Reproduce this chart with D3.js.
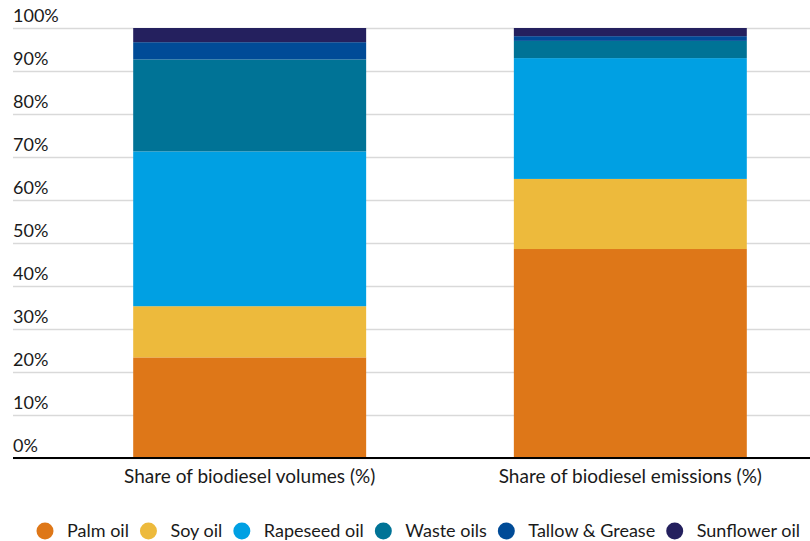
<!DOCTYPE html>
<html>
<head>
<meta charset="utf-8">
<script src="https://cdn.jsdelivr.net/npm/d3@7"></script>
<style>
  body { margin: 0; background: #fff; }
  text { font-family: Lato, "Noto Sans", sans-serif; fill: #1a1a1a; }
</style>
</head>
<body>
<div id="chart"></div>
<script>
// Data (percent share, bottom to top)
const categories = ["Share of biodiesel volumes (%)", "Share of biodiesel emissions (%)"];
const feedstocks = ["Palm oil", "Soy oil", "Rapeseed oil", "Waste oils", "Tallow & Grease", "Sunflower oil"];
const palmOil = [23.4, 48.6];
const soyOil = [11.9, 16.3];
const rapeseedOil = [36.0, 28.1];
const wasteOils = [21.4, 4.0];
const tallowGrease = [4.0, 1.1];
const sunflowerOil = [3.3, 1.9];
const yTicks = [0, 10, 20, 30, 40, 50, 60, 70, 80, 90, 100];
const colors = ["#de7718", "#edba3c", "#00a0e3", "#007396", "#004b97", "#24205e"];

const seriesValues = [palmOil, soyOil, rapeseedOil, wasteOils, tallowGrease, sunflowerOil];
const table = categories.map((c, i) => {
  const row = { category: c };
  feedstocks.forEach((f, j) => row[f] = seriesValues[j][i]);
  return row;
});

const width = 810;
const height = 541;
const marginTop = 28;
const marginBottom = 83;
const marginLeft = 13;

const x = d3.scaleBand()
    .domain(categories)
    .range([78, 802])
    .paddingInner(0.388)
    .paddingOuter(0.145);

const y = d3.scaleLinear()
    .domain([0, 100])
    .range([height - marginBottom, marginTop]);

const color = d3.scaleOrdinal().domain(feedstocks).range(colors);

const svg = d3.select("#chart").append("svg")
    .attr("width", width)
    .attr("height", height);

// grid + tick labels
const yAxis = svg.append("g")
    .attr("transform", `translate(${marginLeft},0)`)
    .call(d3.axisRight(y).tickValues(yTicks).tickSize(width - marginLeft).tickFormat(d => d + "%"));
yAxis.select(".domain").remove();
yAxis.selectAll(".tick line").attr("stroke", "#d9d9d9").attr("stroke-width", 1.5);
yAxis.selectAll(".tick text")
    .attr("x", 0)
    .attr("dy", -7)
    .attr("text-anchor", "start")
    .style("font-size", "18px");

// stacked bars
const stacked = d3.stack().keys(feedstocks)(table);
svg.append("g")
  .selectAll("g")
  .data(stacked)
  .join("g")
    .attr("fill", d => color(d.key))
  .selectAll("rect")
  .data(d => d)
  .join("rect")
    .attr("x", d => x(d.data.category))
    .attr("y", d => y(d[1]))
    .attr("width", x.bandwidth())
    .attr("height", d => y(d[0]) - y(d[1]));

// baseline + category labels
const xAxis = svg.append("g")
    .attr("transform", `translate(0,${y(0)})`)
    .call(d3.axisBottom(x).tickSize(0).tickPadding(12));
xAxis.select(".domain").attr("d", `M${marginLeft},0H${width}`).attr("stroke", "#000").attr("stroke-width", 2);
xAxis.selectAll(".tick text").style("font-size", "19px");

// legend, spread between x=37 and x=800
const legend = svg.append("g").attr("transform", `translate(0,${height - 10})`);
const items = feedstocks.map(f => {
  const item = legend.append("g");
  item.append("circle").attr("r", 8.5).attr("fill", color(f));
  const t = item.append("text")
      .attr("x", 22)
      .attr("dy", "0.35em")
      .style("font-size", "18px")
      .text(f);
  return { item, w: 30 + t.node().getComputedTextLength() };
});
const gap = (800 - 37 - d3.sum(items, d => d.w)) / (items.length - 1);
let lx = 45;
items.forEach(d => {
  d.item.attr("transform", `translate(${lx},0)`);
  lx += d.w + gap;
});
</script>
</body>
</html>
